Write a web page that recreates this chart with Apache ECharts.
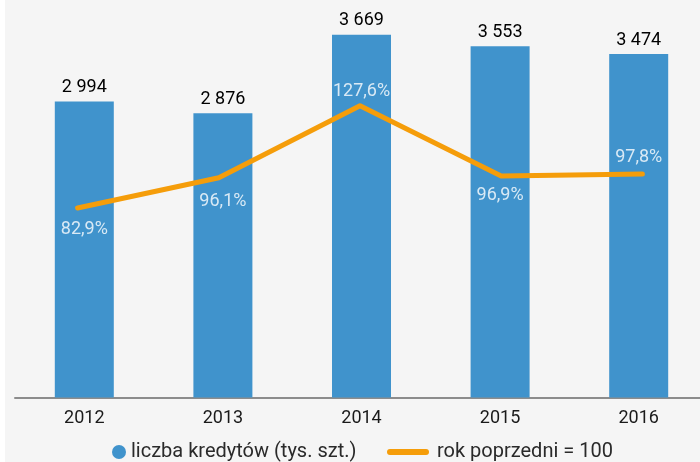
<!DOCTYPE html>
<html>
<head>
<meta charset="utf-8">
<script src="https://cdn.jsdelivr.net/npm/echarts@6.0.0/dist/echarts.min.js"></script>
<style>
  html, body { margin: 0; padding: 0; background: #fff; }
  #chart { position: absolute; left: 5px; top: 0; width: 695px; height: 462px; background: #f5f5f5; }
</style>
</head>
<body>
<div id="chart"></div>
<script>
// liczba kredytów (tys. szt.) and year-on-year index
const years = ["2012", "2013", "2014", "2015", "2016"];
const loans = [2994, 2876, 3669, 3553, 3474];
const prevYear = [82.9, 96.1, 127.6, 96.9, 97.8];

const BAR_NAME = "liczba kredytów (tys. szt.)";
const LINE_NAME = "rok poprzedni = 100";
const BLUE = "#4093cc";
const ORANGE = "#f59d0a";
const FONT = "Roboto, 'Noto Sans', sans-serif";

// where each percent label sits relative to the line
const pctLabelPos = ["bottom", "bottom", "top", "bottom", "top"];
const pctLabelGap = [13, 15, 5, 11, 7];

function thousands(v) {
  return String(v).replace(/\B(?=(\d{3})+(?!\d))/g, " ");
}

function pct(v) {
  return v.toFixed(1).replace(".", ",") + "%";
}

const chart = echarts.init(document.getElementById("chart"));

chart.setOption({
  animation: false,
  textStyle: { fontFamily: FONT },
  grid: [
    { left: 10, width: 693, top: 2, bottom: 64.5, outerBoundsMode: "none" },
    { left: 2, width: 706, top: 2, bottom: 64.5, outerBoundsMode: "none" },
  ],
  legend: [
    {
      data: [BAR_NAME],
      icon: "circle",
      itemWidth: 14,
      itemHeight: 14,
      left: 102,
      top: 437,
      textStyle: { fontSize: 20, color: "#2a2a2a", fontFamily: FONT },
      selectedMode: false,
    },
    {
      data: [LINE_NAME],
      icon: "path://M3,0 L39,0 A3,3 0 0 1 39,6 L3,6 A3,3 0 0 1 3,0 Z",
      itemWidth: 42,
      itemHeight: 6,
      left: 377,
      top: 437,
      textStyle: { fontSize: 20, color: "#2a2a2a", fontFamily: FONT, padding: [0, 0, 0, 3] },
      selectedMode: false,
    },
  ],
  xAxis: [
    {
      type: "category",
      gridIndex: 0,
      data: years,
      axisTick: { show: false },
      axisLine: { lineStyle: { color: "#8c8c8c", width: 2 } },
      axisLabel: { fontSize: 18, color: "#1a1a1a", margin: 12, fontFamily: FONT },
    },
    { type: "category", gridIndex: 1, data: years, show: false },
  ],
  yAxis: [
    { type: "value", gridIndex: 0, min: 0, max: 4000, show: false },
    { type: "value", gridIndex: 0, min: 0, max: 173, show: false },
    { type: "value", gridIndex: 1, min: 0, max: 173, show: false },
  ],
  series: [
    {
      name: BAR_NAME,
      type: "bar",
      xAxisIndex: 0,
      yAxisIndex: 0,
      data: loans,
      barWidth: 59,
      itemStyle: { color: BLUE },
      label: {
        show: true,
        position: "top",
        distance: 5,
        fontSize: 18,
        color: "#000",
        fontFamily: FONT,
        formatter: (p) => thousands(p.value),
      },
    },
    {
      name: LINE_NAME,
      type: "line",
      xAxisIndex: 1,
      yAxisIndex: 2,
      data: prevYear,
      symbol: "none",
      itemStyle: { color: ORANGE },
      lineStyle: { color: ORANGE, width: 5, cap: "round", join: "round" },
      z: 3,
    },
    {
      name: "labels",
      type: "scatter",
      xAxisIndex: 0,
      yAxisIndex: 1,
      symbolSize: 0,
      silent: true,
      z: 4,
      data: prevYear.map((v, i) => ({
        value: v,
        label: { position: pctLabelPos[i], distance: pctLabelGap[i] },
      })),
      label: {
        show: true,
        fontSize: 18,
        color: "#fff",
        fontFamily: FONT,
        formatter: (p) => pct(p.value),
      },
    },
  ],
});
</script>
</body>
</html>
